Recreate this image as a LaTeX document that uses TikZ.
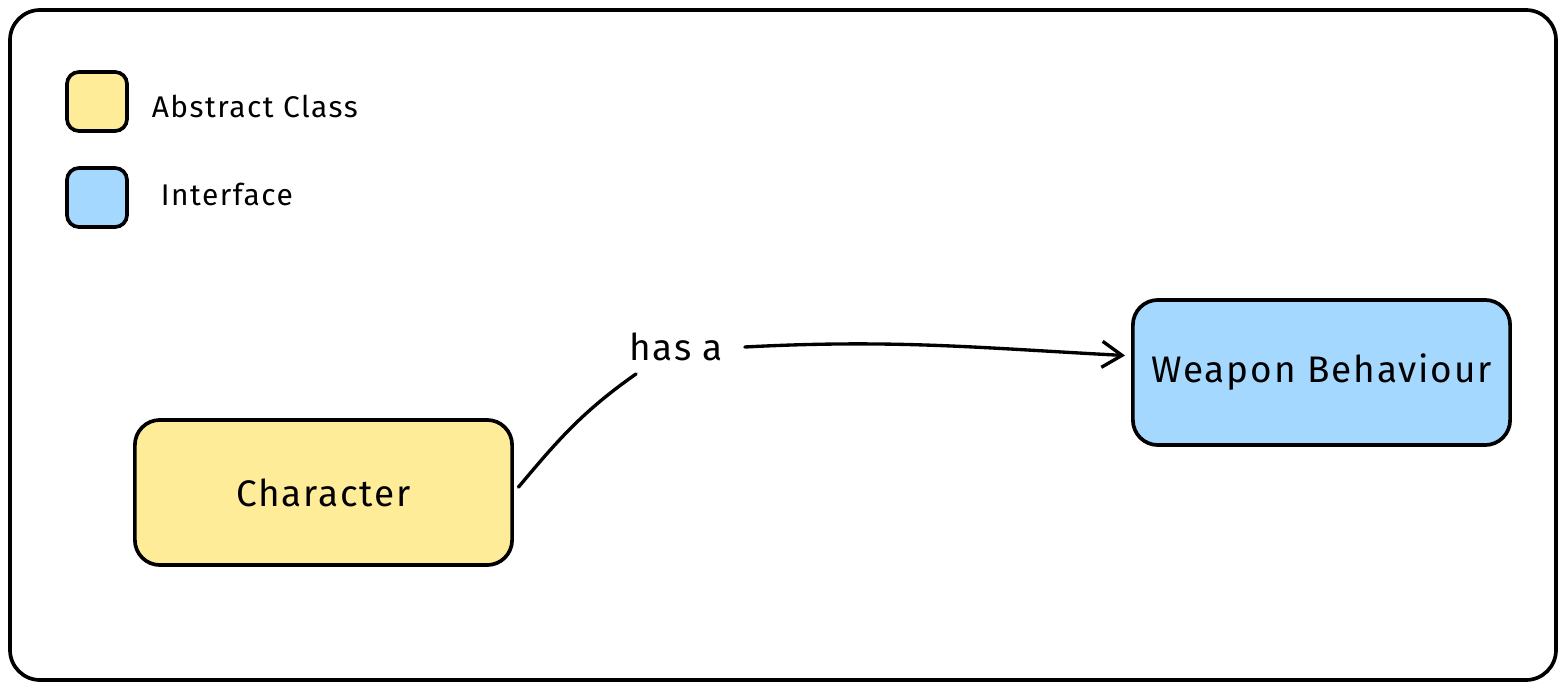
\documentclass[tikz,border=0pt]{standalone}
\usepackage{fontspec}
\setmainfont[LetterSpace=5]{Fira Sans}
\usetikzlibrary{arrows.meta}

\definecolor{absyellow}{HTML}{FFEC99}
\definecolor{ifcblue}{HTML}{A5D8FF}

\begin{document}
\begin{tikzpicture}[x=0.01cm,y=0.01cm,line width=1.05pt,
    classbox/.style={draw,rounded corners=0.25cm,minimum width=3.77cm,minimum height=1.45cm,font=\fontsize{10.5}{12}\selectfont},
    keybox/.style={draw,rounded corners=0.12cm,minimum width=0.6cm,minimum height=0.59cm,inner sep=0pt},
    keytext/.style={anchor=west,inner sep=0pt,font=\fontsize{8.5}{10}\selectfont},
    link/.style={line cap=round,line width=0.95pt}]
        \useasboundingbox (0,0) rectangle (1566,690);
        \draw[rounded corners=0.3cm] (10,10) rectangle (1556,680);

        \node[keybox,fill=absyellow] (keyabs) at (97,588.5) {};
        \node[keytext] (keyabstxt) at (150,584) {Abstract Class};
        \node[keybox,fill=ifcblue] (keyifc) at (97,492.5) {};
        \node[keytext] (keyifctxt) at (159,496) {Interface};

        \node[classbox,fill=absyellow] (char) at (323.5,197.5) {Character};
        \node[classbox,fill=ifcblue] (weapon) at (1321.5,317.5) {Weapon Behaviour};

        \node[inner xsep=0.2cm,inner ysep=0.11cm,font=\fontsize{10.5}{12}\selectfont] (lab) at (676,343) {has a};
        \draw[link,shorten <=0.07cm] (char.east) to[out=50,in=215] (lab.214);
        \draw[link,-{Straight Barb[length=0.2cm,width=0.26cm]},shorten >=0.06cm] (lab.east) to[out=3,in=177] (weapon.175);
    \end{tikzpicture}
\end{document}
